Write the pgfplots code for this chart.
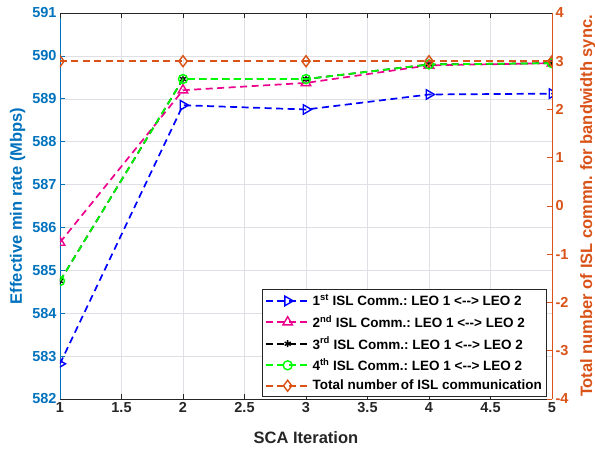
\documentclass[border=0pt]{standalone}
\usepackage{fontspec}
\setmainfont{Liberation Sans}
\usepackage{pgfplots}
\pgfplotsset{compat=1.18}
\frenchspacing

\definecolor{mblue}{rgb}{0,0.447,0.741}
\definecolor{morange}{rgb}{0.85,0.325,0.098}
\definecolor{mgrid}{rgb}{0.87,0.88,0.9}
\definecolor{maxis}{rgb}{0.15,0.15,0.15}

\pgfplotsset{
  common/.style={
    scale only axis, width=492pt, height=386pt,
    at={(0,0)}, anchor=south west,
    xmin=1, xmax=5,
    xtick={1,1.5,2,2.5,3,3.5,4,4.5,5},
    tick align=inside, major tick length=5pt,
    /pgf/number format/assume math mode=true,
    tick label style={font=\fontsize{14.5}{16}\selectfont\bfseries},
    label style={font=\fontsize{16.5}{19}\selectfont\bfseries},
    x axis line style={maxis, line width=0.6pt},
    xtick style={maxis, line width=0.6pt},
    xticklabel style={maxis},
    clip marker paths=true,
  },
  dsh/.style={line width=1.7pt, dash pattern=on 7pt off 4.5pt},
}

\begin{document}
\begin{tikzpicture}
% left axis: effective min rate
\begin{axis}[common,
    axis y line*=left, axis x line*=bottom,
    ymin=582, ymax=591, ytick={582,583,...,591},
    grid=major, grid style={mgrid, line width=0.5pt},
    y axis line style={mblue, line width=0.6pt},
    ytick style={mblue, line width=0.6pt},
    yticklabel style={mblue},
    xlabel={SCA Iteration},
    xlabel style={maxis, at={(axis description cs:0.5,-0.1)}, anchor=center},
    ylabel={Effective min rate (Mbps)},
    ylabel style={mblue, at={(axis description cs:-0.086,0.5)}, anchor=center},
  ]
  \addplot[dsh, blue, mark=triangle, mark size=5.5pt, mark options={solid, line width=1.4pt, rotate=-90}]
    coordinates {(1,582.82)(2,588.85)(3,588.75)(4,589.10)(5,589.12)};
  \addplot[dsh, magenta, mark=triangle, mark size=5.5pt, mark options={solid, line width=1.4pt}]
    coordinates {(1,585.65)(2,589.20)(3,589.37)(4,589.78)(5,589.83)};
  \addplot[dsh, black, mark=asterisk, mark size=3.5pt, mark options={solid, line width=1.4pt}]
    coordinates {(1,584.75)(2,589.46)(3,589.46)(4,589.80)(5,589.83)};
  \addplot[dsh, green, mark=o, mark size=4.5pt, mark options={solid, line width=1.4pt}]
    coordinates {(1,584.75)(2,589.46)(3,589.46)(4,589.80)(5,589.83)};
\end{axis}

% right axis: number of ISL communications
\begin{axis}[common,
    axis y line*=right, axis x line*=top,
    xticklabels={},
    ymin=-4, ymax=4, ytick={-4,-3,...,4},
    y axis line style={morange, line width=0.6pt},
    ytick style={morange, line width=0.6pt},
    yticklabel style={morange},
    ylabel={Total number of ISL commn. for bandwidth sync.},
    ylabel style={morange, at={(axis description cs:1.073,0.5)}, anchor=center},
    legend cell align=left,
    legend style={at={(rel axis cs:0.99,0.006)}, anchor=south east,
      font=\fontsize{13.5}{15}\selectfont\bfseries, draw=maxis, line width=0.6pt,
      fill=white, row sep=4pt, inner xsep=3pt, inner ysep=3pt},
    legend image code/.code={%
      \draw[mark repeat=2, mark phase=2]
        plot coordinates {(0pt,0pt) (22pt,0pt) (44pt,0pt)};},
  ]
  \addlegendimage{dsh, blue, mark=triangle, mark size=5.5pt, mark options={solid, line width=1.4pt, rotate=-90}}
  \addlegendentry{1\textsuperscript{st} ISL Comm.: LEO 1 <-{}-> LEO 2}
  \addlegendimage{dsh, magenta, mark=triangle, mark size=5.5pt, mark options={solid, line width=1.4pt}}
  \addlegendentry{2\textsuperscript{nd} ISL Comm.: LEO 1 <-{}-> LEO 2}
  \addlegendimage{dsh, black, mark=asterisk, mark size=3.5pt, mark options={solid, line width=1.4pt}}
  \addlegendentry{3\textsuperscript{rd} ISL Comm.: LEO 1 <-{}-> LEO 2}
  \addlegendimage{dsh, green, mark=o, mark size=4.5pt, mark options={solid, line width=1.4pt}}
  \addlegendentry{4\textsuperscript{th} ISL Comm.: LEO 1 <-{}-> LEO 2}
  \addplot[dsh, morange, mark=diamond, mark size=5.5pt, mark options={solid, line width=1.4pt}]
    coordinates {(1,3)(2,3)(3,3)(4,3)(5,3)};
  \addlegendentry{Total number of ISL communication}
\end{axis}
\pgfresetboundingbox
\useasboundingbox (-60pt,-50pt) rectangle (535pt,399pt);
\end{tikzpicture}
\end{document}
